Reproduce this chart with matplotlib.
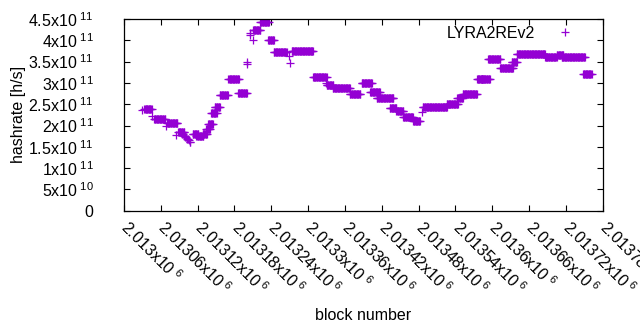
import numpy as np
import matplotlib
matplotlib.use("Agg")
import matplotlib.pyplot as plt

plt.rcParams['font.family'] = ['Liberation Sans', 'DejaVu Sans']
plt.rcParams['mathtext.fontset'] = 'custom'
plt.rcParams['mathtext.rm'] = 'Liberation Sans'
plt.rcParams['mathtext.it'] = 'Liberation Sans'

# runs of blocks sharing one hashrate value (block offset from 2013000, rate in 1e11 h/s)
run_start = [30, 33, 46, 49, 68, 70, 85, 88, 95, 98, 100, 103, 106, 107,
             112, 118, 128, 134, 137, 142, 148, 156, 170, 186, 200, 201,
             205, 206, 210, 210, 222, 235, 244, 269, 270, 273, 308, 329,
             330, 340, 368, 387, 401, 412, 433, 444, 455, 471, 485, 487,
             526, 543, 552, 575, 583, 593, 613, 632, 640, 686, 705, 713, 748]
run_end = [30, 45, 46, 67, 68, 87, 85, 98, 96, 99, 101, 104, 106, 108,
           121, 129, 135, 140, 145, 151, 156, 169, 187, 200, 200, 201,
           205, 206, 210, 222, 236, 244, 265, 269, 270, 308, 330, 329,
           341, 368, 385, 404, 417, 439, 444, 455, 471, 482, 485, 526,
           544, 552, 575, 585, 596, 613, 634, 640, 686, 705, 716, 751, 762]
run_rate = [2.36, 2.39, 2.22, 2.16, 2.00, 2.06, 1.78, 1.84, 1.80, 1.76, 1.72, 1.68, 1.65, 1.62,
            1.80, 1.75, 1.80, 1.92, 2.03, 2.29, 2.43, 2.72, 3.09, 2.76, 3.45, 3.50,
            4.17, 4.12, 4.00, 4.25, 4.42, 4.00, 3.73, 3.62, 3.46, 3.75, 3.15, 3.00,
            2.94, 2.88, 2.73, 2.99, 2.79, 2.65, 2.40, 2.33, 2.20, 2.10, 2.32, 2.44,
            2.50, 2.65, 2.73, 3.10, 3.09, 3.55, 3.35, 3.50, 3.68, 3.61, 3.65, 3.60, 3.22]

blocks = []
rates = []
for s, e, r in zip(run_start, run_end, run_rate):
    for b in range(s, e + 1):
        blocks.append(2013000 + b)
        rates.append(r * 1e11)

fs = 11.5

fig = plt.figure(figsize=(6.4, 3.3), dpi=100)
ax = fig.add_axes([0.1938, 0.3615, 0.7479, 0.5809])

ax.plot(blocks, rates, linestyle='none', marker='+', markersize=5.5,
        markeredgewidth=0.9, color='#9400d3', label='LYRA2REv2')

ax.set_xlim(2013000, 2013780)
ax.set_ylim(0, 4.5e11)

xt = [2013000 + 60 * k for k in range(14)]
ax.set_xticks(xt)
ax.set_xticklabels([f"{v / 1e6:g}x10$^{{\\ 6}}$" for v in xt], rotation=-45,
                   ha='left', va='center', rotation_mode='anchor', fontsize=fs)

yt = [k * 0.5e11 for k in range(10)]
ylab = ["0", "5x10$^{\\ 10}$"]
for k in range(2, 10):
    m = k * 0.5
    ylab.append(f"{m:g}x10$^{{\\ 11}}$")
ax.set_yticks(yt)
ax.set_yticklabels(ylab, fontsize=fs)

ax.tick_params(direction='in', length=4, width=0.8, top=True, right=True)
ax.tick_params(axis='y', pad=22)
ax.tick_params(axis='x', pad=10)
for sp in ax.spines.values():
    sp.set_linewidth(0.9)

ax.set_xlabel("block number", fontsize=fs)
ax.set_ylabel("hashrate [h/s]", fontsize=fs)
ax.xaxis.set_label_coords(0.5, -0.51)
ax.yaxis.set_label_coords(-0.205, 0.5)

ax.legend(loc='upper right', bbox_to_anchor=(0.985, 1.04), frameon=False,
          markerfirst=False, fontsize=fs, handlelength=2.0, handletextpad=0.9)

fig.savefig("out.png", dpi=100)
